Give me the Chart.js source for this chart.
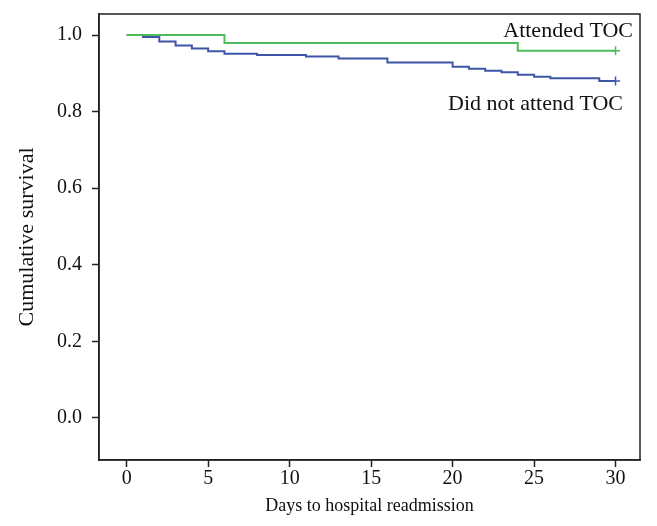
<!DOCTYPE html>
<html>
<head>
<meta charset="utf-8">
<script src="https://cdn.jsdelivr.net/npm/chart.js@4"></script>
<style>
    html, body { margin: 0; padding: 0; background: #fff; }
    #wrap { width: 657px; height: 526px; }
</style>
</head>
<body>
<div id="wrap"><canvas id="km"></canvas></div>
<script>
// ================================
// DATA
// ================================
const attendedDays = [0, 6, 24, 30];
const attendedSurv = [1.0, 0.979, 0.959, 0.959];

const notAttendedDays = [0, 1, 2, 3, 4, 5, 6, 8, 11, 13, 16, 20, 21, 22, 23, 24, 25, 26, 29, 30];
const notAttendedSurv = [1.0, 0.995, 0.983, 0.973, 0.965, 0.958, 0.951, 0.948, 0.944, 0.939, 0.928, 0.917, 0.912, 0.907, 0.903, 0.896, 0.891, 0.887, 0.880, 0.880];

const xTicks = [0, 5, 10, 15, 20, 25, 30];
const yTicks = [0.0, 0.2, 0.4, 0.6, 0.8, 1.0];

const seriesLabels = ["Attended TOC", "Did not attend TOC"];

const FONT = "'Liberation Serif', 'Times New Roman', serif";

function toPoints(xs, ys) {
    return xs.map((x, i) => ({ x: x, y: ys[i] }));
}

// only the last point (censored end) gets a "+"
function lastOnly(size) {
    return ctx => ctx.dataIndex === ctx.dataset.data.length - 1 ? size : 0;
}

// box around the plot + curve labels
const boxPlugin = {
    id: "box",
    afterDraw(chart) {
        const { ctx, chartArea: a } = chart;
        ctx.save();
        ctx.strokeStyle = "#222";
        ctx.lineWidth = 1.5;
        ctx.strokeRect(a.left, a.top, a.right - a.left, a.bottom - a.top);

        ctx.fillStyle = "#111";
        ctx.font = "22px " + FONT;
        ctx.textAlign = "right";
        ctx.textBaseline = "alphabetic";
        ctx.fillText(seriesLabels[0], a.right - 7, a.top + 23);
        ctx.fillText(seriesLabels[1], a.right - 17, a.top + 96);
        ctx.restore();
    }
};

new Chart(document.getElementById("km"), {
    type: "line",
    data: {
        datasets: [
            {
                // first dataset is drawn on top
                label: seriesLabels[0],
                data: toPoints(attendedDays, attendedSurv),
                borderColor: "#4dbd5c",
                backgroundColor: "#4dbd5c",
                borderWidth: 2,
                stepped: true,
                pointStyle: "cross",
                pointRadius: lastOnly(4.5),
                pointBorderWidth: 1.5,
                fill: false
            },
            {
                label: seriesLabels[1],
                data: toPoints(notAttendedDays, notAttendedSurv),
                borderColor: "#3f55a8",
                backgroundColor: "#3f55a8",
                borderWidth: 2,
                stepped: true,
                pointStyle: "cross",
                pointRadius: lastOnly(4.5),
                pointBorderWidth: 1.5,
                fill: false
            }
        ]
    },
    options: {
        responsive: true,
        maintainAspectRatio: false,
        animation: false,
        layout: { padding: { top: 14, right: 17, left: 0, bottom: 0 } },
        plugins: {
            legend: { display: false },
            tooltip: { enabled: false }
        },
        scales: {
            x: {
                type: "linear",
                min: -1.7,
                max: 31.5,
                afterBuildTicks: s => { s.ticks = xTicks.map(v => ({ value: v })); },
                afterFit: s => { s.height = 66; s.paddingLeft = 0; s.paddingRight = 0; },
                grid: { drawOnChartArea: false, drawTicks: true, tickLength: 7, color: "#222", tickWidth: 1.5 },
                border: { display: true, color: "#222", width: 1.5 },
                ticks: { color: "#111", font: { family: FONT, size: 20 }, padding: 0, maxRotation: 0 },
                title: { display: true, text: "Days to hospital readmission", color: "#111", font: { family: FONT, size: 18 }, padding: { bottom: 9 } }
            },
            y: {
                min: -0.11,
                max: 1.055,
                afterBuildTicks: s => { s.ticks = yTicks.map(v => ({ value: v })); },
                afterFit: s => { s.width = 99; s.paddingTop = 0; s.paddingBottom = 0; },
                grid: { drawOnChartArea: false, drawTicks: true, tickLength: 7, color: "#222", tickWidth: 1.5 },
                border: { display: true, color: "#222", width: 1.5 },
                ticks: { color: "#111", font: { family: FONT, size: 20 }, padding: 10, callback: v => v.toFixed(1) },
                title: { display: true, text: "Cumulative survival", color: "#111", font: { family: FONT, size: 22 }, padding: { top: 14 } }
            }
        }
    },
    plugins: [boxPlugin]
});
</script>
</body>
</html>
